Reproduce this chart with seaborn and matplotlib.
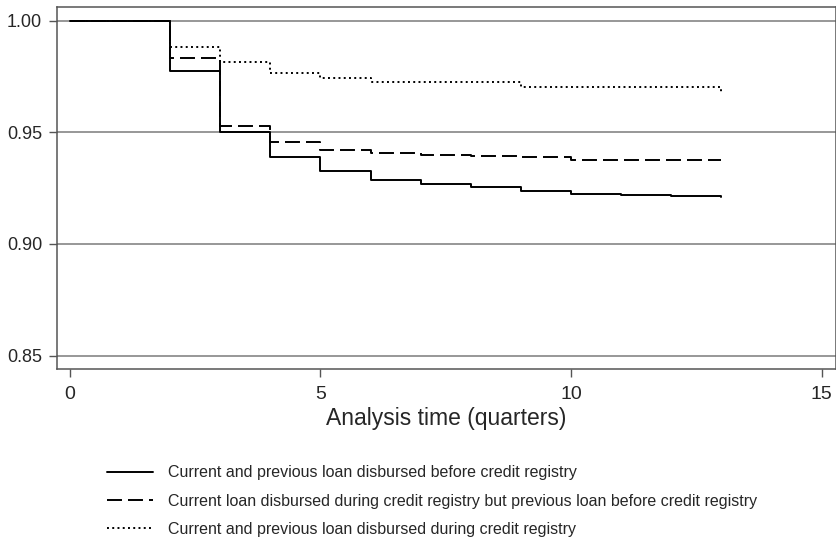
import pandas as pd
import matplotlib
matplotlib.use("Agg")
import matplotlib.pyplot as plt
import seaborn as sns

# survival estimates (step function, value holds until next time)
times = [0, 2, 3, 4, 5, 6, 7, 8, 9, 10, 11, 12, 13]
surv_before = [1.0, 0.9775, 0.9500, 0.9391, 0.9328, 0.9286, 0.9268, 0.9254,
               0.9237, 0.9225, 0.9219, 0.9215, 0.9211]
surv_mixed = [1.0, 0.9834, 0.9530, 0.9455, 0.9419, 0.9407, 0.9397, 0.9393,
              0.9388, 0.9376, 0.9376, 0.9376, 0.9375]
surv_during = [1.0, 0.9884, 0.9816, 0.9764, 0.9742, 0.9724, 0.9724, 0.9724,
               0.9702, 0.9702, 0.9702, 0.9702, 0.9682]

labels = [
    "Current and previous loan disbursed before credit registry",
    "Current loan disbursed during credit registry but previous loan before credit registry",
    "Current and previous loan disbursed during credit registry",
]
yticks = [0.85, 0.90, 0.95, 1.00]
xticks = [0, 5, 10, 15]

sns.set_style("white")
plt.rcParams["font.family"] = ["Liberation Sans", "DejaVu Sans"]

fig = plt.figure(figsize=(8.37, 5.43), dpi=100)
ax = fig.add_axes([0.0685, 0.3204, 0.9299, 0.6667])

styles = [
    dict(linestyle="-"),
    dict(dashes=(7.7, 3.1)),
    dict(dashes=(1, 1.7)),
]
series = [surv_before, surv_mixed, surv_during]

# gridlines first so lines sit on top
for y in yticks:
    ax.axhline(y, color="#7a7a7a", lw=1.1, zorder=0)

for vals, lab, st in zip(series, labels, styles):
    df = pd.DataFrame({"t": times, "s": vals})
    sns.lineplot(data=df, x="t", y="s", ax=ax, color="black", lw=1.4,
                 drawstyle="steps-post", label=lab, **st)

ax.set_xlim(-0.25, 15.28)
ax.set_ylim(0.844, 1.0061)
ax.set_xticks(xticks)
ax.set_yticks(yticks)
ax.set_yticklabels([f"{v:.2f}" for v in yticks])
ax.tick_params(axis="both", direction="out", length=6, width=1, color="#555555",
               bottom=True, left=True)
ax.tick_params(axis="y", labelsize=13, pad=5)
ax.tick_params(axis="x", labelsize=14, pad=6)
for sp in ax.spines.values():
    sp.set_color("#555555")
    sp.set_linewidth(1.1)

ax.set_xlabel("Analysis time (quarters)", fontsize=16.5, labelpad=3)
ax.set_ylabel("")

handles, labs = ax.get_legend_handles_labels()
ax.get_legend().remove()
fig.legend(handles, labs, loc="upper left", bbox_to_anchor=(0.12, 0.155),
           frameon=False, fontsize=11.5, handlelength=2.9, handletextpad=0.9,
           labelspacing=0.84, borderaxespad=0)

fig.savefig("out.png", dpi=100)
